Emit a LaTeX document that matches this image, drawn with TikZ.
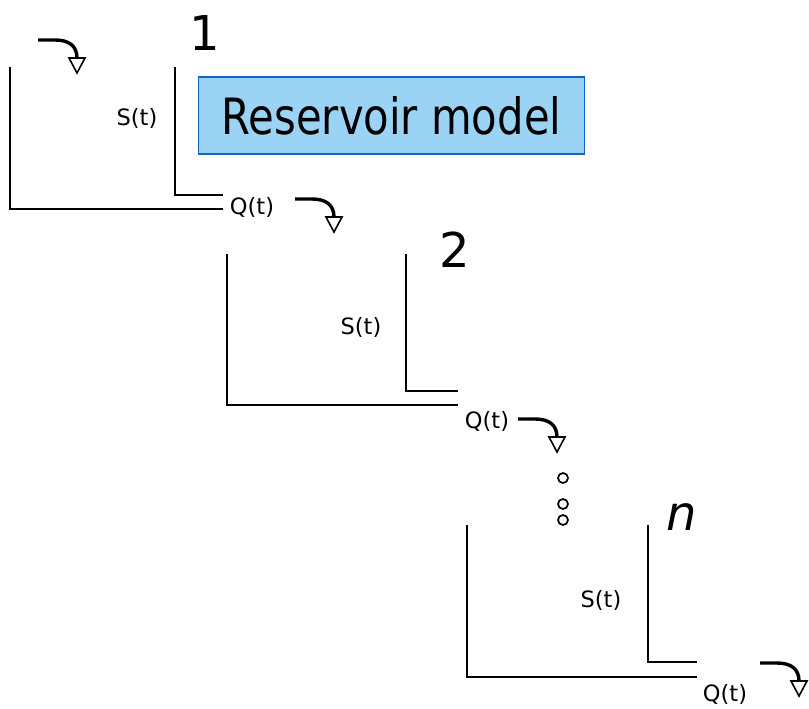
\documentclass[tikz,border=0pt]{standalone}
\usepackage{fontspec}
\setmainfont{DejaVu Sans}
\newfontfamily\titlefont[FakeStretch=0.835]{DejaVu Sans}
\definecolor{boxfill}{RGB}{155,211,245}
\definecolor{boxdraw}{RGB}{20,100,200}
\begin{document}
\begin{tikzpicture}[x=1pt,y=-1pt,
  wall/.style={line width=2pt, line cap=rect},
  lbl/.style={font=\fontsize{22.5}{26}\selectfont, inner sep=0pt},
  num/.style={font=\fontsize{48}{52}\selectfont, inner sep=0pt},
  dotc/.style={line width=1.7pt, draw=black, fill=white},
  flowarr/.pic={
    \draw[line width=3.4pt] (0,0) -- (17,0) .. controls (31,0) and (39,6) .. (39,18);
    \draw[line width=1.6pt, fill=white, line join=miter] (31,18) -- (47,18) -- (39,33) -- cycle;
  }]
\useasboundingbox (0,0) rectangle (809,709);

% reservoir 1
\draw[wall] (10,68) -- (10,209) -- (222,209);
\draw[wall] (175,68) -- (175,195) -- (222,195);
\node[lbl] (s1) at (137,118) {S(t)};
\node[lbl] (q1) at (252,207) {Q(t)};
\node[num] (n1) at (205,33) {1};
\pic at (38,40) {flowarr};
\pic at (295,199) {flowarr};

% box
\node[draw=boxdraw, line width=1.8pt, fill=boxfill, minimum width=386pt, minimum height=77pt, inner sep=0pt,
  font=\titlefont\fontsize{50}{54}\selectfont] (box) at (391.5,115.5) {Reservoir model};

% reservoir 2
\draw[wall] (227,255) -- (227,405) -- (457,405);
\draw[wall] (406,255) -- (406,391) -- (457,391);
\node[lbl] (s2) at (361,327) {S(t)};
\node[lbl] (q2) at (487,421) {Q(t)};
\node[num] (n2) at (455,250) {2};
\pic at (518,419) {flowarr};

% dots
\draw[dotc] (563,478) circle (5);
\draw[dotc] (563,504) circle (5);
\draw[dotc] (563,520) circle (5);

% reservoir n
\draw[wall] (467,526) -- (467,677) -- (696,677);
\draw[wall] (648,526) -- (648,662) -- (696,662);
\node[lbl] (s3) at (601,600) {S(t)};
\node[lbl] (q3) at (725,694) {Q(t)};
\node[num, font=\itshape\fontsize{48}{52}\selectfont] (n3) at (682,517) {n};
\pic at (760,663) {flowarr};
\end{tikzpicture}
\end{document}
